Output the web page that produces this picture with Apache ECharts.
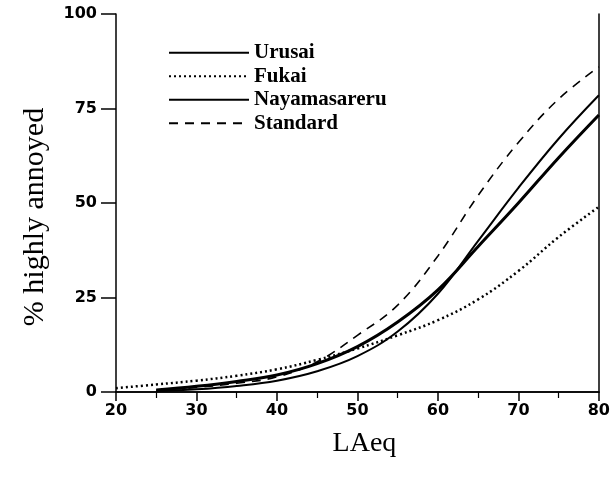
<!DOCTYPE html>
<html>
<head>
<meta charset="utf-8">
<script src="https://cdn.jsdelivr.net/npm/echarts@6/dist/echarts.min.js"></script>
<style>
  html, body { margin: 0; padding: 0; background: #fff; }
  #chart { width: 613px; height: 486px; }
</style>
</head>
<body>
<div id="chart"></div>
<script>
// Noise level (LAeq) against percentage highly annoyed, per annoyance term
const laeq = [20, 25, 30, 35, 40, 45, 50, 55, 60, 65, 70, 75, 80];
const urusai = [null, 0.2, 0.7, 1.6, 3.0, 5.5, 9.5, 16, 26, 40, 54, 67, 78.5];
const fukai = [1, 2, 3, 4.3, 6, 8.5, 11.5, 15, 19, 24.5, 32, 41, 49];
const nayamasareru = [null, 0.5, 1.5, 2.8, 4.5, 7.5, 12, 18.5, 27, 38.5, 50, 62, 73.3];
const standard = [null, 0.5, 1.2, 2.3, 4, 8, 15, 23, 36, 52, 66, 77.5, 86];
const xTicks = [20, 30, 40, 50, 60, 70, 80];
const yTicks = [0, 25, 50, 75, 100];

const serif = '"Liberation Serif", "Times New Roman", serif';
const tickFont = '"DejaVu Sans", Arial, sans-serif';
const ink = '#000';

function pairs(ys) {
  return laeq.map((x, i) => [x, ys[i]]).filter(p => p[1] !== null);
}

const chart = echarts.init(document.getElementById('chart'), null, { renderer: 'canvas' });

const line = (name, ys, style) => ({
  name: name,
  type: 'line',
  data: pairs(ys),
  smooth: 0.4,
  showSymbol: false,
  symbol: 'none',
  animation: false,
  lineStyle: Object.assign({ color: ink }, style),
  itemStyle: { color: ink }
});

chart.setOption({
  backgroundColor: '#fff',
  animation: false,
  grid: { left: 116, right: 12, top: 14, bottom: 94 },
  legend: {
    orient: 'vertical',
    left: 168,
    top: 42,
    padding: 0,
    itemWidth: 80,
    itemHeight: 14,
    itemGap: 2,
    itemStyle: { opacity: 0 },
    textStyle: { fontFamily: serif, fontSize: 21, lineHeight: 21.5, fontWeight: 'bold', color: ink, padding: [0, 0, 0, 0] },
    data: ['Urusai', 'Fukai', 'Nayamasareru', 'Standard']
  },
  xAxis: [{
    type: 'value',
    min: 20, max: 80, interval: 10,
    name: 'LAeq',
    nameLocation: 'middle',
    nameGap: 38,
    nameTextStyle: { fontFamily: serif, fontSize: 28, color: ink, padding: [0, 0, 0, 14] },
    axisLine: { lineStyle: { color: ink, width: 1.5 } },
    axisTick: { inside: false, length: 9, lineStyle: { color: ink, width: 1.5 } },
    minorTick: { show: true, splitNumber: 2, length: 6, lineStyle: { color: ink, width: 1.2 } },
    axisLabel: { fontFamily: tickFont, fontWeight: 'bold', fontSize: 16, color: ink, margin: 11 },
    splitLine: { show: false }
  }, {
    type: 'value',
    position: 'top',
    min: 20, max: 80,
    axisLine: { show: true, lineStyle: { color: ink, width: 1.5 } },
    axisTick: { show: false },
    axisLabel: { show: false },
    splitLine: { show: false }
  }],
  yAxis: [{
    type: 'value',
    min: 0, max: 100, interval: 25,
    name: '% highly annoyed',
    nameLocation: 'middle',
    nameGap: 66,
    nameRotate: 90,
    nameTextStyle: { fontFamily: serif, fontSize: 30, color: ink, padding: [0, 28, 0, 0] },
    axisLine: { show: true, lineStyle: { color: ink, width: 1.5 } },
    axisTick: { show: true, inside: false, length: 15, lineStyle: { color: ink, width: 1.5 } },
    axisLabel: { fontFamily: tickFont, fontWeight: 'bold', fontSize: 16, color: ink, margin: 19 },
    splitLine: { show: false }
  }, {
    type: 'value',
    position: 'right',
    min: 0, max: 100,
    axisLine: { show: true, lineStyle: { color: ink, width: 1.5 } },
    axisTick: { show: false },
    axisLabel: { show: false },
    splitLine: { show: false }
  }],
  series: [
    line('Urusai', urusai, { width: 2, type: 'solid' }),
    line('Fukai', fukai, { width: 2.5, type: [2, 3] }),
    line('Nayamasareru', nayamasareru, { width: 3, type: 'solid' }),
    line('Standard', standard, { width: 1.6, type: [9, 7] })
  ]
});
</script>
</body>
</html>
